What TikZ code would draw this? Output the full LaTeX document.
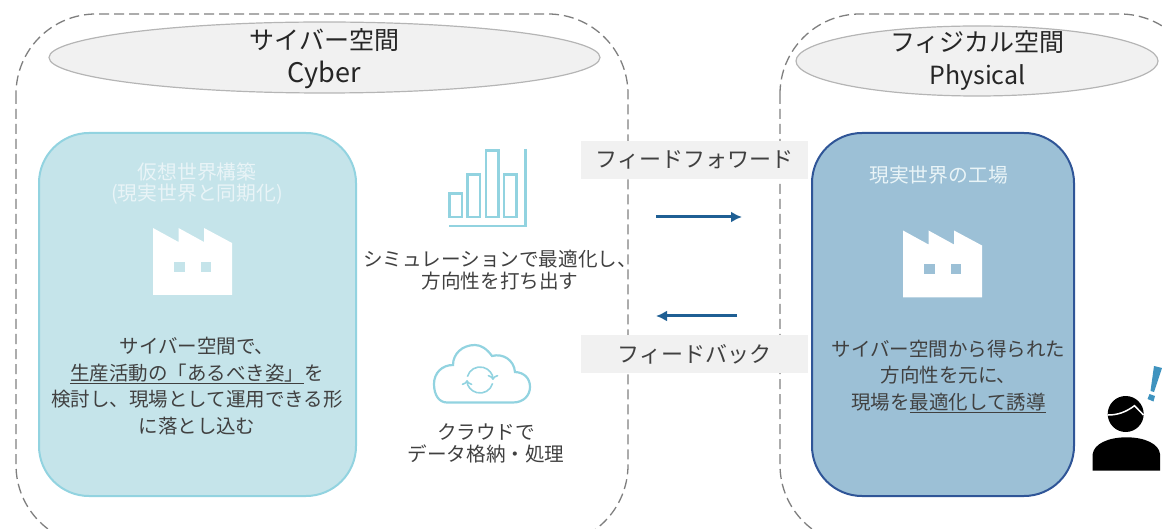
\documentclass[tikz,border=0pt]{standalone}
\usepackage{fontspec}
\setmainfont{Noto Sans CJK JP}
\usetikzlibrary{shapes.geometric,arrows.meta}
\definecolor{framegray}{HTML}{7F7F7F}
\definecolor{headfill}{HTML}{F1F1F1}
\definecolor{headline}{HTML}{B5B5B5}
\definecolor{cyberfill}{HTML}{C5E4EA}
\definecolor{cyberline}{HTML}{92D3E0}
\definecolor{realfill}{HTML}{9CC0D6}
\definecolor{realline}{HTML}{2F5597}
\definecolor{paletext}{HTML}{E9F4F7}
\definecolor{bodytext}{HTML}{404040}
\definecolor{flowblue}{HTML}{1F5F94}
\definecolor{alertblue}{HTML}{3F93BF}
\tikzset{
  spacehead/.style = {ellipse, draw = headline, fill = headfill, line width = 1.2pt, inner sep = 0pt},
  headlabel/.style = {align = center, text = black!85, font = \fontsize{25}{33}\selectfont},
  world/.style = {rounded corners = 50pt, line width = 2pt, minimum height = 363pt, inner sep = 0pt},
  paletitle/.style = {align = center, text = paletext, font = \fontsize{19.8}{21}\selectfont},
  bodylabel/.style = {align = center, text = bodytext, font = \fontsize{19.5}{26.5}\selectfont},
  midlabel/.style = {align = center, text = bodytext, font = \fontsize{19.6}{21.5}\selectfont},
  flowlabel/.style = {fill = headfill, minimum width = 227pt, minimum height = 38pt, inner sep = 0pt, text = bodytext, font = \fontsize{22}{24}\selectfont},
  flowarrow/.style = {-{Latex[length = 11pt, width = 11pt]}, line width = 3pt, flowblue},
  iconline/.style = {cyberline, line width = 2.2pt},
  frameline/.style = {framegray, line width = 1.3pt, dash pattern = on 10pt off 5pt, rounded corners = 80pt}
}
\begin{document}
\begin{tikzpicture}[x = 1pt, y = -1pt]
\useasboundingbox (0,0) rectangle (1162,529);
\clip (0,0) rectangle (1162,529);
\draw [frameline] (16,14) rectangle (628,545);
\draw [frameline] (780,14) rectangle (1200,545);
\node [spacehead, minimum width = 551pt, minimum height = 71pt] (cyberhead) at (324.5,57.5) {};
\node [spacehead, minimum width = 362pt, minimum height = 70pt] (physicalhead) at (977,61) {};
\node [headlabel] (cyberlabel) at (324.5,58.5) {サイバー空間\\{\fontsize{27}{33}\selectfont Cyber}};
\node [headlabel] (physicallabel) at (977.5,60.5) {フィジカル空間\\Physical};
\node [world, draw = cyberline, fill = cyberfill, minimum width = 317pt] (virtualbox) at (197.5,314.5) {};
\node [world, draw = realline, fill = realfill, minimum width = 262pt] (realbox) at (943,314.5) {};
\node [paletitle] (virtualtitle) at (197,184) {仮想世界構築\\(現実世界と同期化)};
\node [paletitle] (realtitle) at (938.5,175) {現実世界の工場};
\node [bodylabel] (virtualtext) at (197,386) {サイバー空間で、\\\underline{生産活動の「あるべき姿」}を\\検討し、現場として運用できる形\\に落とし込む};
\node [bodylabel] (realtext) at (948.5,376.5) {サイバー空間から得られた\\方向性を元に、\\現場を\underline{最適化して誘導}};
\node [midlabel] (simtext) at (500,270) {シミュレーションで最適化し、\\方向性を打ち出す};
\node [midlabel] (cloudtext) at (486,443.5) {クラウドで\\データ格納・処理};
\node [flowlabel] (forwardlabel) at (694.5,160) {フィードフォワード};
\node [flowlabel] (backlabel) at (694.5,354) {フィードバック};
\coordinate (forwardstart) at (656,217);
\coordinate (forwardend) at (742,217);
\coordinate (backstart) at (737,316);
\coordinate (backend) at (656,316);
\draw [flowarrow] (forwardstart) -- (forwardend);
\draw [flowarrow] (backstart) -- (backend);
\foreach \xpos/\ypos/\windowfill in {0/0/cyberfill, 750/2.5/realfill} {
\fill [white, xshift = \xpos pt, yshift = -\ypos pt] (153,228) -- (178.5,242) -- (178.5,228) -- (204,242) -- (204,228) -- (232,243) -- (232,295) -- (153,295) -- cycle;
\fill [\windowfill, xshift = \xpos pt, yshift = -\ypos pt] (174,262) rectangle (185,272);
\fill [\windowfill, xshift = \xpos pt, yshift = -\ypos pt] (201,262) rectangle (211,272);
}
\foreach \xbar/\ytop in {449.5/193.5, 467.5/174.5, 486/150.5, 504/174.5}
\draw [iconline] (\xbar,\ytop) rectangle (\xbar + 12.5,217);
\draw [iconline] (525.5,149) -- (525.5,226) -- (448.5,226);
\draw [iconline] (447,402.5) -- (513,402.5) .. controls (524,402.5) and (530,395) .. (530,387) .. controls (530,378) and (524,372.5) .. (515,372) .. controls (514,360) and (503,353) .. (492,356) .. controls (487,349) and (481,345) .. (475,345) .. controls (462,345) and (453,354) .. (453,365) .. controls (442,365) and (434,373) .. (434,384) .. controls (434,395) and (439,402.5) .. (447,402.5) -- cycle;
\draw [cyberline, line width = 1.6pt, ->] (467.4,376.6) arc (-165:0:13);
\draw [cyberline, line width = 1.6pt, ->] (492.6,383.4) arc (15:180:13);
\fill (1125.7,414) circle (18);
\fill (1092.7,470.7) -- (1092.7,454) .. controls (1094,444) and (1108,437.3) .. (1126.5,437.3) .. controls (1145,437.3) and (1159,444) .. (1160,454) -- (1160,470.7) -- cycle;
\draw [white, line width = 1.5pt] (1108,415) .. controls (1118,415) and (1126,412) .. (1134.5,405.7) -- (1143.5,415);
\fill [alertblue] (1154,366) -- (1162,368) -- (1154,392) -- (1150.5,391) -- cycle;
\fill [alertblue] (1147.5,399) -- (1149.5,394) -- (1155,396) -- (1153.5,401.5) -- cycle;
\end{tikzpicture}
\end{document}
